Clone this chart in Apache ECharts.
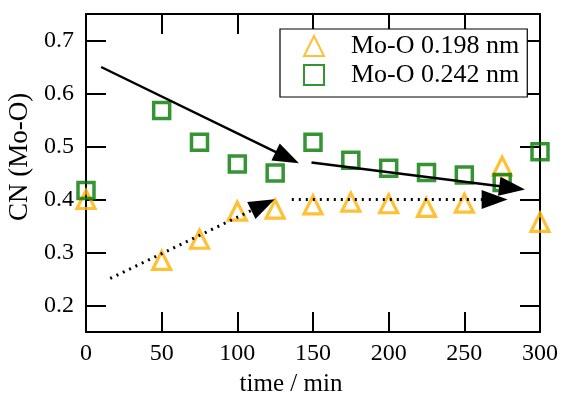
<!DOCTYPE html>
<html>
<head>
<meta charset="utf-8">
<script src="https://cdn.jsdelivr.net/npm/echarts@6/dist/echarts.min.js"></script>
<style>
  html, body { margin: 0; padding: 0; background: #fff; }
  #chart { width: 561px; height: 400px; }
</style>
</head>
<body>
<div id="chart"></div>
<script>
const times = [0, 50, 75, 100, 125, 150, 175, 200, 225, 250, 275, 300];
const cn198 = [0.400, 0.285, 0.325, 0.378, 0.382, 0.390, 0.395, 0.392, 0.385, 0.393, 0.463, 0.357];
const cn242 = [0.417, 0.568, 0.508, 0.467, 0.450, 0.508, 0.474, 0.459, 0.451, 0.446, 0.432, 0.490];
const yTicks = [0.2, 0.3, 0.4, 0.5, 0.6, 0.7];

// trend arrows: [startX, startY, endX, endY, dotted]  (end = centre of the arrow head)
const arrows = [
  [10, 0.650, 133, 0.479, false],
  [149, 0.470, 281.6, 0.422, false],
  [16, 0.251, 117, 0.390, true],
  [136, 0.400, 270, 0.400, true]
];

const font = "'Liberation Serif', 'DejaVu Serif', serif";
const orange = '#ffb000';
const green = '#037a03';

const chart = echarts.init(document.getElementById('chart'));

const axisCommon = {
  axisLine: { show: true, onZero: false, lineStyle: { color: '#000', width: 2 } },
  axisTick: { show: true, inside: true, length: 20, lineStyle: { color: '#000', width: 2 } },
  splitLine: { show: false }
};

chart.setOption({
  animation: false,
  grid: { left: 86, right: 21, top: 14, bottom: 68, containLabel: false, outerBoundsMode: 'none' },
  legend: {
    orient: 'vertical',
    left: 280,
    top: 29,
    padding: [4, 8, 9, 23],
    itemWidth: 20,
    itemHeight: 20,
    itemGap: 3,
    borderColor: '#000',
    borderWidth: 1.2,
    backgroundColor: '#fff',
    textStyle: { fontFamily: font, fontSize: 26, color: '#000', padding: [0, 0, 0, 22] },
    data: ['Mo-O 0.198 nm', 'Mo-O 0.242 nm']
  },
  xAxis: [
    Object.assign({}, axisCommon, {
      type: 'value', position: 'bottom', min: 0, max: 300, interval: 50,
      name: 'time / min', nameLocation: 'middle', nameGap: 40,
      nameTextStyle: { fontFamily: font, fontSize: 25, color: '#000', padding: [0, 44, 0, 0] },
      axisLabel: { fontFamily: font, fontSize: 24, color: '#000', margin: 10 }
    }),
    Object.assign({}, axisCommon, {
      type: 'value', position: 'top', min: 0, max: 300, interval: 50,
      axisLabel: { show: false }
    })
  ],
  yAxis: [
    Object.assign({}, axisCommon, {
      type: 'value', position: 'left', min: 0.15, max: 0.75,
      name: 'CN (Mo-O)', nameLocation: 'middle', nameGap: 53,
      nameTextStyle: { fontFamily: font, fontSize: 27, color: '#000', padding: [0, 0, 0, 32] },
      axisTick: Object.assign({}, axisCommon.axisTick, { customValues: yTicks }),
      axisLabel: {
        fontFamily: font, fontSize: 24, color: '#000', margin: 12,
        customValues: yTicks, formatter: v => v.toFixed(1)
      }
    }),
    Object.assign({}, axisCommon, {
      type: 'value', position: 'right', min: 0.15, max: 0.75,
      axisTick: Object.assign({}, axisCommon.axisTick, { customValues: yTicks }),
      axisLabel: { show: false, customValues: yTicks }
    })
  ],
  series: [
    {
      name: 'Mo-O 0.198 nm',
      type: 'scatter',
      symbol: 'triangle',
      symbolSize: 18,
      itemStyle: { color: 'rgba(255,255,255,0)', borderColor: orange, borderWidth: 3.2 },
      data: times.map((t, i) => [t, cn198[i]]),
      z: 3
    },
    {
      name: 'Mo-O 0.242 nm',
      type: 'scatter',
      symbol: 'rect',
      symbolSize: 16,
      itemStyle: { color: 'rgba(255,255,255,0)', borderColor: green, borderWidth: 3.5 },
      data: times.map((t, i) => [t, cn242[i]]),
      z: 3,
      markLine: {
        silent: true,
        animation: false,
        symbol: ['none', 'triangle'],
        symbolSize: [19, 26],
        label: { show: false },
        z: 5,
        data: arrows.map(a => [
          { coord: [a[0], a[1]], lineStyle: { color: '#000', width: a[4] ? 3 : 2.5, type: a[4] ? [2, 5] : 'solid' }, itemStyle: { color: '#000' } },
          { coord: [a[2], a[3]] }
        ])
      }
    }
  ]
});
</script>
</body>
</html>
